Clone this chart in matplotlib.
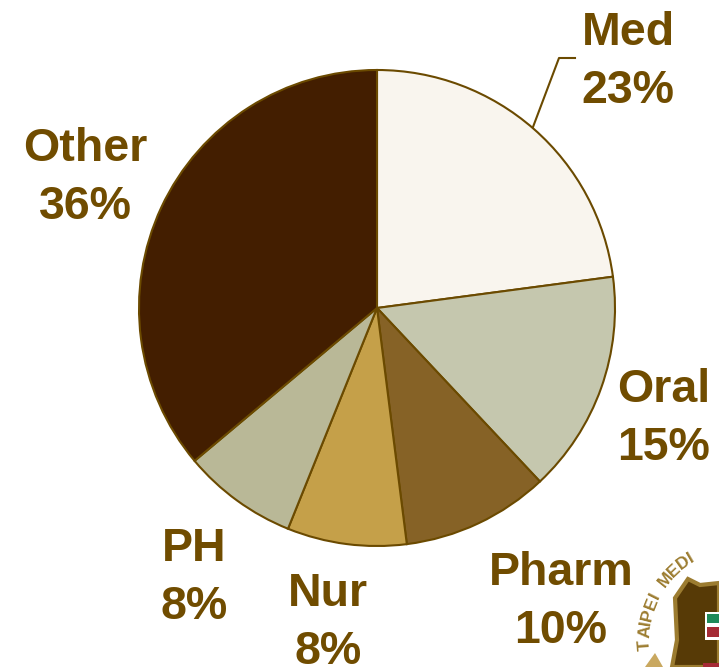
import matplotlib
matplotlib.use("Agg")
import matplotlib.pyplot as plt
from matplotlib.patches import Polygon, Rectangle
from matplotlib.textpath import TextPath
from matplotlib.font_manager import FontProperties
import math

labels = ["Med", "Oral", "Pharm", "Nur", "PH", "Other"]
percents = [23, 15, 10, 8, 8, 36]
# slice sizes
values = [22.9, 15.1, 10.0, 8.1, 7.8, 36.1]
colors = ["#F9F5EE", "#C5C7AE", "#866226", "#C5A049", "#B9B897", "#431E00"]
edge = "#6B4A00"
text_col = "#704C00"
gold = "#9C7C30"

H = 667

# label centres in pixels, from the top left
label_x = [628, 664, 561, 328, 194, 85]
label_y = [62, 419, 602, 623, 578, 178]

plt.rcParams["font.family"] = ["Liberation Sans", "DejaVu Sans"]

fig = plt.figure(figsize=(7.19, 6.67), dpi=100)
ax = fig.add_axes([0, 0, 1, 1])

cx, cy, r = 377, 308, 238
ax.pie(values, colors=colors, startangle=90, counterclock=False, radius=r, center=(cx, H - cy),
       frame=True, wedgeprops={"edgecolor": edge, "linewidth": 1.5})
ax.set_xlim(0, 719)
ax.set_ylim(0, H)
ax.set_aspect("equal")
ax.axis("off")

# leader line for Med
ax.plot([533, 559, 575], [H - 127, H - 58, H - 58], color=edge, lw=1.5)

for name, pct, x, y in zip(labels, percents, label_x, label_y):
    ax.text(x, H - y, name + "\n" + str(pct) + "%", ha="center", va="center", fontsize=33.5,
            fontweight="bold", color=text_col, linespacing=1.42)

# crest cut off in the bottom right corner
shield = [(672, 667), (677, 640), (675, 598), (688, 579), (700, 585), (719, 583), (719, 667)]
ax.add_patch(Polygon([(x, H - y) for x, y in shield], closed=True, facecolor="#573A06",
                     edgecolor=gold, lw=3))
ax.add_patch(Rectangle((705, H - 640), 14, 28, facecolor="white", edgecolor="none"))
ax.add_patch(Rectangle((707, H - 623), 12, 9, facecolor="#1F8A5A", edgecolor="none"))
ax.add_patch(Rectangle((707, H - 637), 12, 10, facecolor="#A52A35", edgecolor="none"))
ax.add_patch(Rectangle((703, H - 667), 16, 4, facecolor="#A52A35", edgecolor="none"))
leaf = [(645, 667), (650, 660), (655, 653), (659, 660), (663, 667)]
ax.add_patch(Polygon([(x, H - y) for x, y in leaf], closed=True, facecolor="#C9A860", edgecolor="none"))

# ring of text round the crest, one letter at a time
arc_cx, arc_cy, arc_r = 738, 638, 93
arc_text = "TAIPEI MEDI"
fp = FontProperties(family="Liberation Sans", weight="bold", size=12.5)
ang = 188.0
for ch in arc_text:
    w = TextPath((0, 0), "n" if ch == " " else ch, prop=fp).get_extents().width * 100 / 72 + 2.0
    ang -= math.degrees(w / 2 / arc_r)
    a = math.radians(ang)
    x = arc_cx + arc_r * math.cos(a)
    y = (H - arc_cy) + arc_r * math.sin(a)
    ax.text(x, y, ch, ha="center", va="center", rotation=ang - 90,
            rotation_mode="anchor", fontproperties=fp, color=gold)
    ang -= math.degrees(w / 2 / arc_r)

fig.savefig("out.png", dpi=100)
